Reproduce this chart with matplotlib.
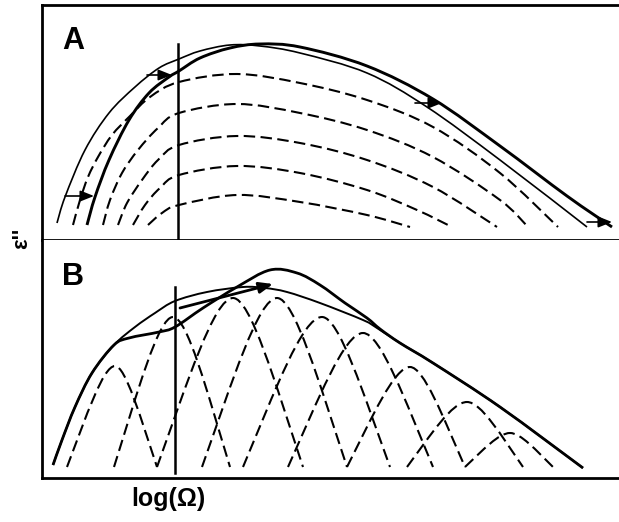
import numpy as np
import matplotlib
matplotlib.use("Agg")
import matplotlib.pyplot as plt
from matplotlib.path import Path
from matplotlib.patches import PathPatch

plt.rcParams['font.family'] = ['Liberation Sans', 'DejaVu Sans']

# ---------------- Panel A data (arbitrary units: log(Omega), eps'') ----------------
a_env_x = [15, 23, 43, 67, 93, 117, 137, 158, 188, 218, 258, 325, 385, 458, 545]
a_env_y = [17, 43, 90, 127, 153, 172, 181, 189, 195, 194, 187, 167, 133, 80, 13]

a_shift_x = [45, 53, 67, 87, 107, 127, 137, 158, 188, 218, 258, 325, 391, 458, 525, 570]
a_shift_y = [15, 43, 80, 120, 147, 163, 169, 182, 192, 196, 193, 174, 141, 94, 44, 13]

a_dash_x = [
    [31, 38, 46, 56, 70, 88, 108, 137, 195, 258, 325, 391, 458, 516],
    [61, 68, 80, 96, 116, 137, 195, 258, 325, 391, 458, 486],
    [76, 85, 100, 116, 137, 195, 258, 325, 391, 455],
    [91, 103, 118, 137, 195, 258, 325, 375, 410],
    [106, 120, 137, 195, 258, 325, 368],
]
a_dash_y = [
    [15, 40, 63, 83, 105, 124, 143, 158, 166, 157, 140, 113, 67, 13],
    [15, 40, 67, 90, 112, 127, 136, 127, 110, 83, 40, 13],
    [15, 37, 60, 80, 95, 104, 97, 80, 53, 13],
    [15, 35, 52, 65, 74, 67, 50, 30, 13],
    [15, 27, 35, 45, 38, 25, 13],
]
a_vline_x = 136
a_vline_top = 196
a_arrow_x0 = [23, 105, 373, 545]
a_arrow_x1 = [52, 130, 400, 570]
a_arrow_y = [44, 165, 137, 18]

# ---------------- Panel B data ----------------
b_env_x = [11, 20, 33, 50, 72, 93, 113, 133, 165, 201, 223, 245, 278, 321, 335, 358, 391, 458, 541]
b_env_y = [13, 38, 71, 105, 133, 151, 165, 177, 186, 191, 190, 186, 175, 158, 150, 135, 115, 71, 10]

b_sum_x = [11, 20, 33, 50, 72, 87, 117, 133, 161, 195, 228, 255, 278, 303, 325, 338, 358, 391, 458, 541]
b_sum_y = [13, 38, 71, 105, 133, 140, 146, 151, 170, 191, 208, 205, 193, 175, 160, 149, 135, 115, 71, 10]

b_start = [25, 72, 115, 160, 201, 246, 305, 365, 423]
b_peak_x = [73, 131, 191, 235, 280, 321, 368, 425, 468]
b_peak_y = [112, 161, 180, 180, 161, 145, 111, 76, 45]
b_end = [115, 188, 261, 305, 348, 391, 423, 481, 511]
b_base = 11
b_vline_x = 133
b_vline_top = 191
b_arrow_start = (138, 170)
b_arrow_end = (231, 194)


def smooth_path(xs, ys):
    pts = np.column_stack([xs, ys]).astype(float)
    n = len(pts)
    verts = [pts[0]]
    codes = [Path.MOVETO]
    for i in range(n - 1):
        p0 = pts[i - 1] if i > 0 else pts[i]
        p1 = pts[i]
        p2 = pts[i + 1]
        p3 = pts[i + 2] if i + 2 < n else pts[i + 1]
        verts += [p1 + (p2 - p0) / 6.0, p2 - (p3 - p1) / 6.0, p2]
        codes += [Path.CURVE4] * 3
    return Path(verts, codes)


def bump_path(s, px, py, e, base):
    verts = [(s, base),
             (s + 0.4 * (px - s), base + 0.5 * (py - base)),
             (px - 0.25 * (px - s), py),
             (px, py),
             (px + 0.25 * (e - px), py),
             (e - 0.4 * (e - px), base + 0.5 * (py - base)),
             (e, base)]
    codes = [Path.MOVETO] + [Path.CURVE4] * 6
    return Path(verts, codes)


W, H = 619, 522
fig = plt.figure(figsize=(W / 100, H / 100), dpi=100)
fig.patch.set_facecolor('white')

axA = fig.add_axes([42 / W, (H - 240) / H, (W - 42) / W, (240 - 5) / H])
axB = fig.add_axes([42 / W, (H - 478) / H, (W - 42) / W, (478 - 240) / H])

for ax, ylim in ((axA, 235), (axB, 238)):
    ax.set_xlim(0, W - 42)
    ax.set_ylim(0, ylim)
    ax.set_xticks([])
    ax.set_yticks([])
    ax.spines['right'].set_visible(False)
    for sp in ('left', 'top', 'bottom'):
        ax.spines[sp].set_linewidth(2.0)
axB.spines['top'].set_visible(False)

dash = (0, (5.5, 2.6))
arrow_style = '-|>,head_length=0.55,head_width=0.22'

# Panel A
axA.add_patch(PathPatch(smooth_path(a_env_x, a_env_y), fill=False, lw=1.2, color='black'))
axA.add_patch(PathPatch(smooth_path(a_shift_x, a_shift_y), fill=False, lw=2.1, color='black'))
for xs, ys in zip(a_dash_x, a_dash_y):
    axA.add_patch(PathPatch(smooth_path(xs, ys), fill=False, lw=1.5, color='black', linestyle=dash))
axA.plot([a_vline_x, a_vline_x], [0, a_vline_top], color='black', lw=1.8)
for x0, x1, y in zip(a_arrow_x0, a_arrow_x1, a_arrow_y):
    axA.annotate('', xy=(x1, y), xytext=(x0, y),
                 arrowprops=dict(arrowstyle=arrow_style, color='black', lw=1.2,
                                 mutation_scale=15, shrinkA=0, shrinkB=0))
axA.text(20, 214, 'A', ha='left', va='top', fontsize=22, fontweight='bold')

# Panel B
axB.add_patch(PathPatch(smooth_path(b_env_x, b_env_y), fill=False, lw=1.4, color='black'))
axB.add_patch(PathPatch(smooth_path(b_sum_x, b_sum_y), fill=False, lw=2.0, color='black'))
for s, px, py, e in zip(b_start, b_peak_x, b_peak_y, b_end):
    axB.add_patch(PathPatch(bump_path(s, px, py, e, b_base), fill=False, lw=1.5,
                            color='black', linestyle=dash))
axB.plot([b_vline_x, b_vline_x], [5, b_vline_top], color='black', lw=1.8)
axB.annotate('', xy=b_arrow_end, xytext=b_arrow_start,
             arrowprops=dict(arrowstyle=arrow_style, color='black', lw=2.0,
                             mutation_scale=15, shrinkA=0, shrinkB=0))
axB.text(20, 216, 'B', ha='left', va='top', fontsize=22, fontweight='bold')

# Axis labels
fig.text(22 / W, (H - 238) / H, "ε''", rotation=90, ha='center', va='center',
         fontsize=16, fontweight='bold')
fig.text(168 / W, (H - 499) / H, 'log(Ω)', ha='center', va='center',
         fontsize=18, fontweight='bold')

fig.savefig('out.png', dpi=100, facecolor='white')
